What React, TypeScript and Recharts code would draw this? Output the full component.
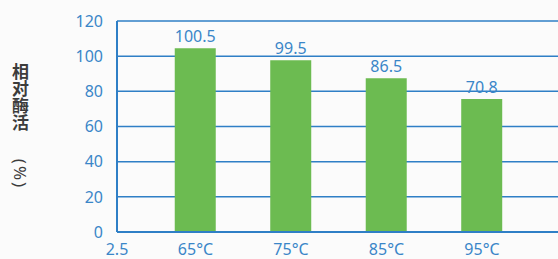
import React from 'react';
import { BarChart, Bar, XAxis, YAxis, CartesianGrid, LabelList } from 'recharts';

// temperatures (positions on the x scale) and relative activity
const positions = [1, 2, 3, 4];
const categories = ['65°C', '75°C', '85°C', '95°C'];
const activity = [104.5, 97.7, 87.5, 75.6];
const valueLabels = ['100.5', '99.5', '86.5', '70.8'];

const xStart = 0.178;
const xEnd = 5.236;
const xTickLabels = ['2.5', ...categories];
const yTicks = [0, 20, 40, 60, 80, 100, 120];

const BLUE = '#2f7fc6';
const TEXT_BLUE = '#3a86c8';
const GREEN = '#6cbb51';

const data = positions.map((x, i) => ({
  x,
  name: categories[i],
  value: activity[i],
  label: valueLabels[i],
}));

const tickStyle = { fill: TEXT_BLUE, fontSize: 16, fontFamily: '"Noto Sans", sans-serif' };

const App: React.FC = () => {
  return (
    <div
      style={{
        position: 'absolute',
        left: 0,
        top: 0,
        width: 558,
        height: 259,
        overflow: 'hidden',
        background: '#fbfbfb',
      }}
    >
      <div
        style={{
          position: 'absolute',
          left: 11,
          top: 63,
          writingMode: 'vertical-rl',
          fontFamily: '"Noto Sans CJK SC", sans-serif',
          fontSize: 17,
          fontWeight: 700,
          color: '#3c3c3c',
          lineHeight: '18px',
        }}
      >
        相对酶活
      </div>
      <svg width={40} height={259} style={{ position: 'absolute', left: 0, top: 0 }}>
        <text
          x={174}
          y={0}
          transform="rotate(90) translate(0 -14)"
          textAnchor="middle"
          fontFamily='"Noto Sans", sans-serif'
          fontSize={17}
          fill="#3c3c3c"
          letterSpacing={2}
        >
          (%)
        </text>
      </svg>
      <BarChart
        width={600}
        height={259}
        data={data}
        margin={{ top: 21, right: 0, bottom: 0, left: 0 }}
        style={{ position: 'absolute', left: 0, top: 0 }}
      >
        <CartesianGrid horizontal vertical={false} stroke={BLUE} strokeWidth={1.5} />
        <XAxis
          dataKey="x"
          type="number"
          domain={[xStart, xEnd]}
          allowDataOverflow
          ticks={[xStart, ...positions]}
          interval={0}
          tickFormatter={(v: number, i: number) => xTickLabels[i]}
          tick={tickStyle}
          tickLine={false}
          tickSize={6}
          tickMargin={6}
          axisLine={{ stroke: BLUE, strokeWidth: 2 }}
          height={27}
        />
        <YAxis
          domain={[0, 120]}
          ticks={yTicks}
          interval={0}
          tick={tickStyle}
          tickLine={false}
          tickSize={6}
          tickMargin={8}
          axisLine={{ stroke: BLUE, strokeWidth: 2 }}
          width={117}
        />
        <Bar dataKey="value" fill={GREEN} barSize={41} isAnimationActive={false}>
          <LabelList
            dataKey="label"
            position="top"
            offset={6}
            fill={TEXT_BLUE}
            fontSize={16}
            fontFamily='"Noto Sans", sans-serif'
          />
        </Bar>
      </BarChart>
    </div>
  );
};

export default App;
